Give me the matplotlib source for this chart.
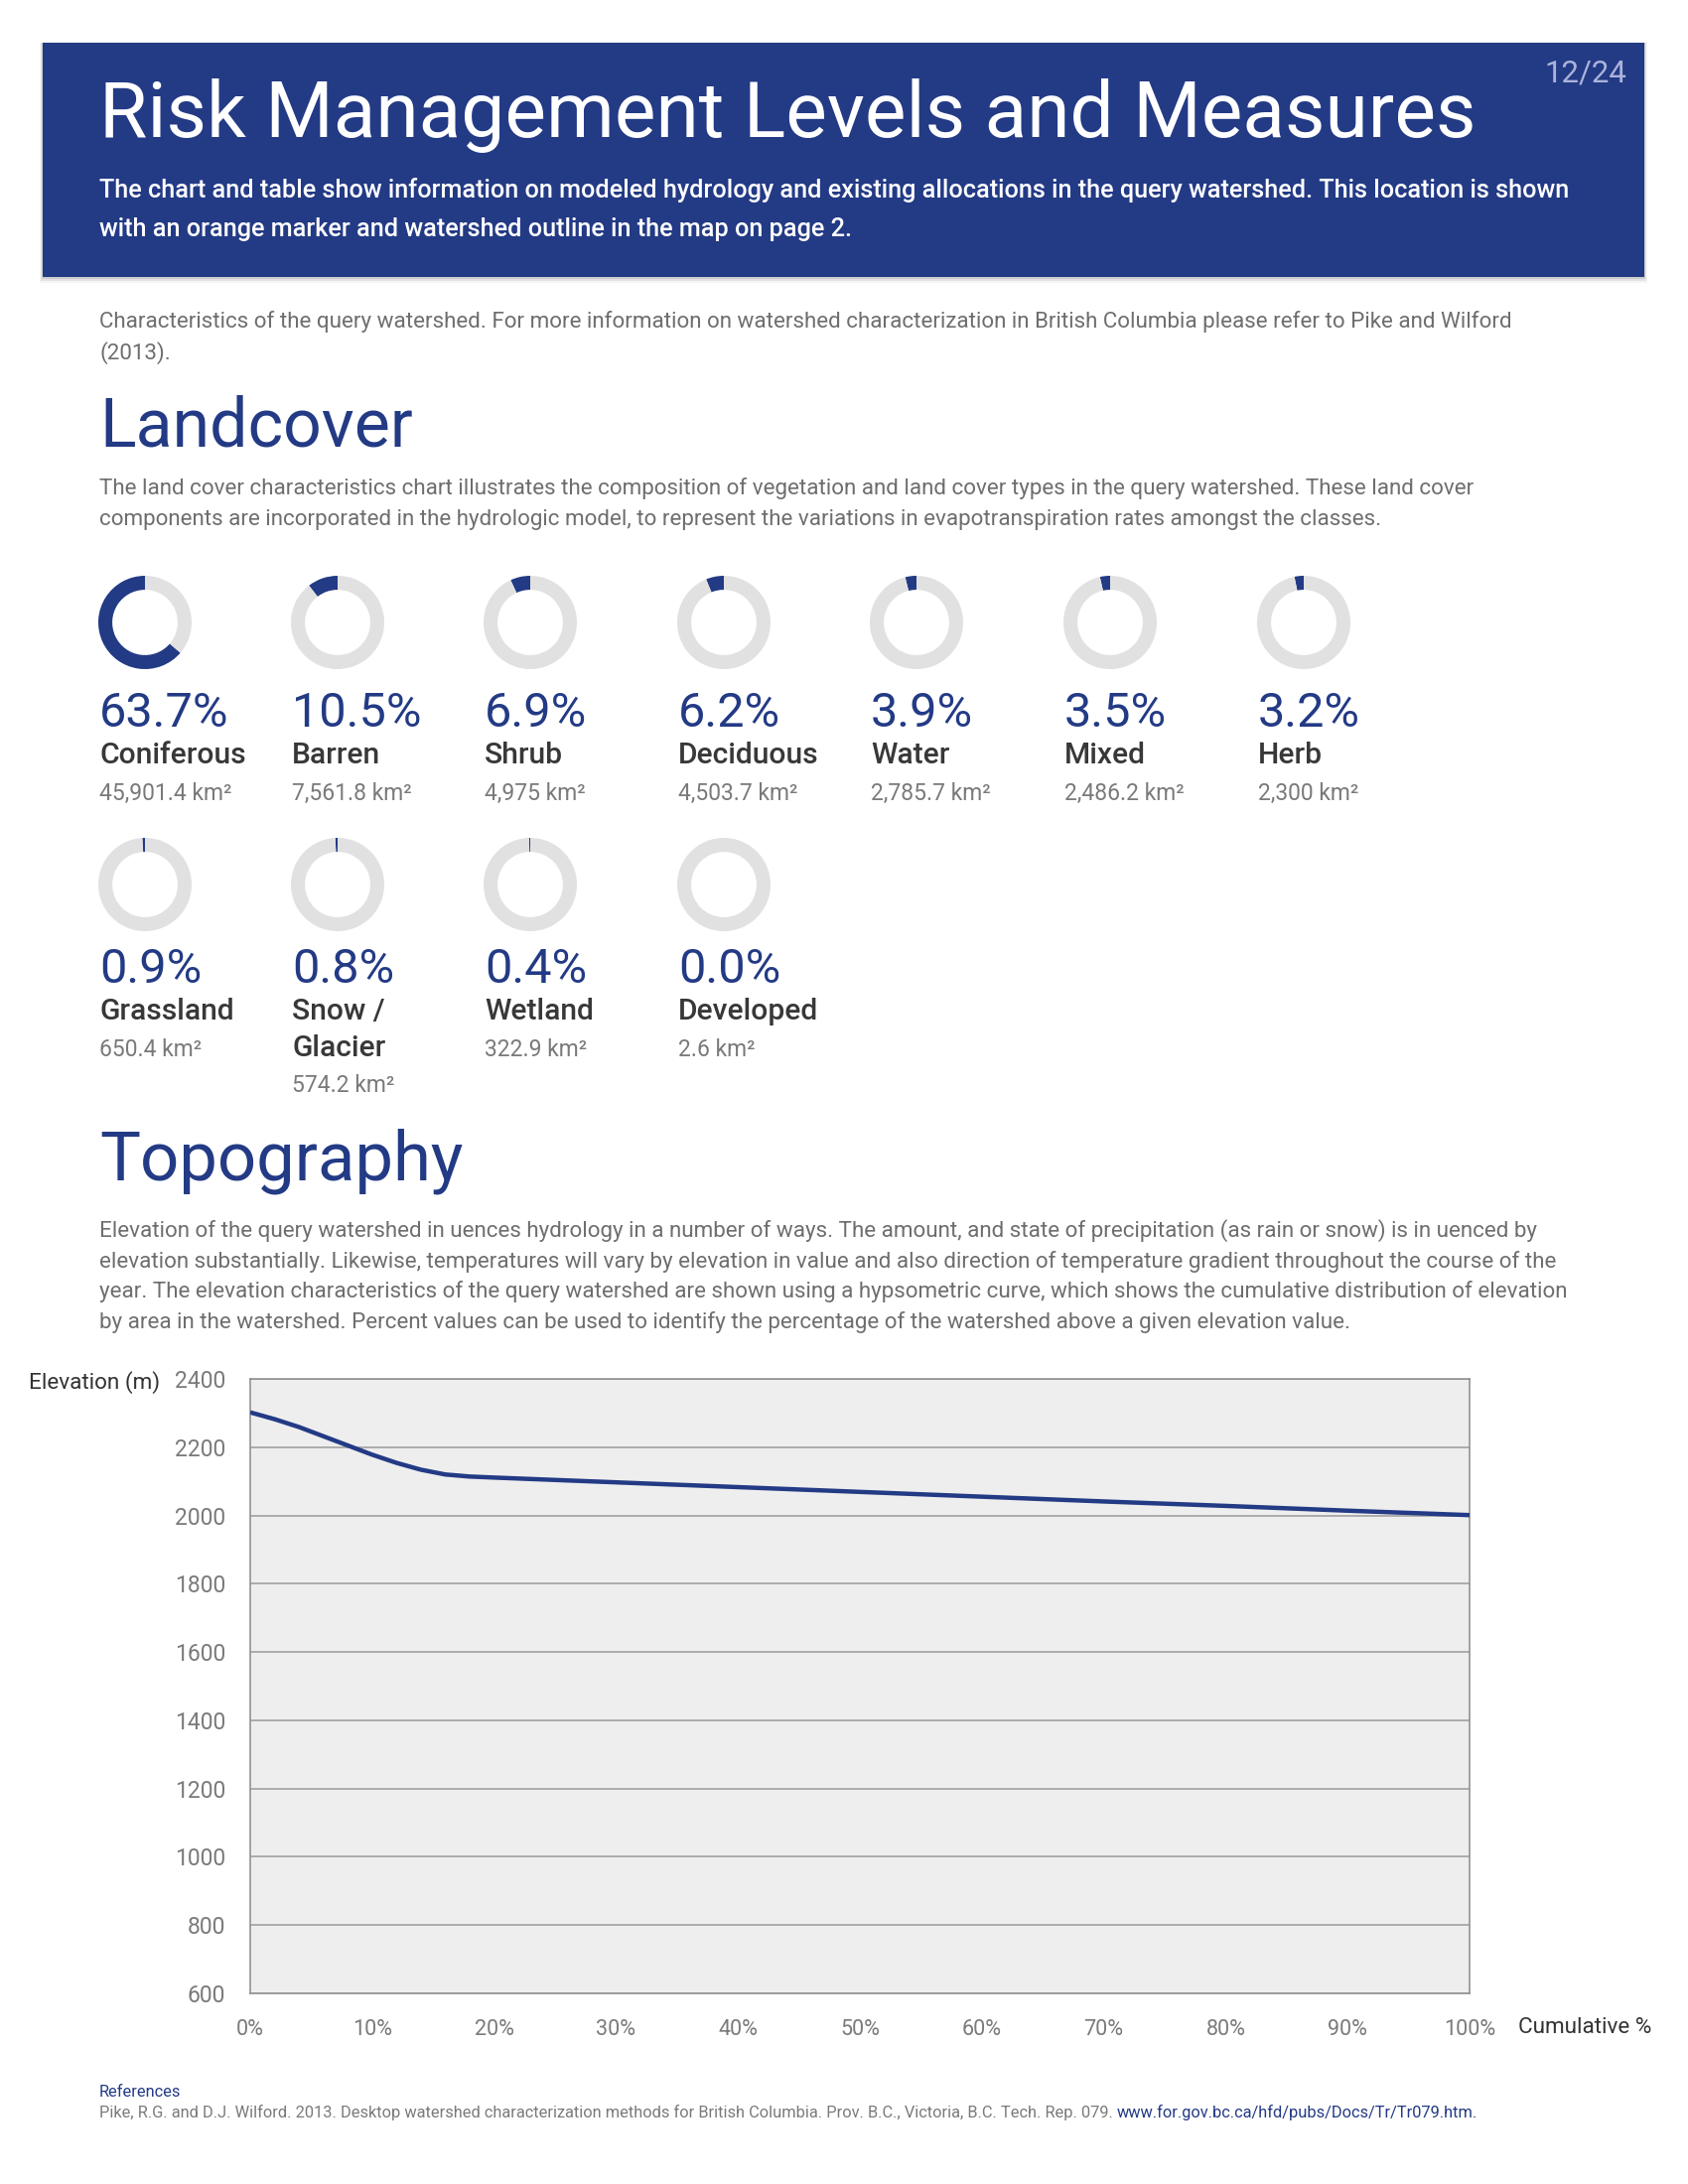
import numpy as np
import matplotlib.pyplot as plt
from matplotlib.patches import Rectangle

plt.rcParams['font.family'] = ['Roboto', 'DejaVu Sans']

W, H = 1700, 2200
NAVY = '#233a85'
RING = '#e1e1e1'

# landcover classes
classes = ['Coniferous', 'Barren', 'Shrub', 'Deciduous', 'Water', 'Mixed', 'Herb',
           'Grassland', 'Snow /\nGlacier', 'Wetland', 'Developed']
percents = [63.7, 10.5, 6.9, 6.2, 3.9, 3.5, 3.2, 0.9, 0.8, 0.4, 0.0]
areas = ['45,901.4', '7,561.8', '4,975', '4,503.7', '2,785.7', '2,486.2', '2,300',
         '650.4', '574.2', '322.9', '2.6']

# hypsometric curve
cum_pct = [0, 2, 4, 6, 8, 10, 12, 14, 16, 18, 20, 30, 40, 50, 60, 70, 80, 90, 100]
elevation = [2302, 2282, 2259, 2232, 2205, 2178, 2154, 2134, 2120, 2114, 2111,
             2097, 2083, 2069, 2055, 2041, 2028, 2014, 2001]
y_ticks = [600, 800, 1000, 1200, 1400, 1600, 1800, 2000, 2200, 2400]
x_ticks = [0, 10, 20, 30, 40, 50, 60, 70, 80, 90, 100]

fig = plt.figure(figsize=(17, 22), dpi=100)


def fx(x):
    return x / W


def fy(y):
    return 1 - y / H


def txt(x, y, s, **kw):
    kw.setdefault('va', 'center')
    fig.text(fx(x), fy(y), s, **kw)


# header banner with a soft shadow
for k, a in enumerate([0.10, 0.18, 0.30]):
    off = 6 - 2 * k
    fig.patches.append(Rectangle((fx(43 - off / 2), fy(279 + off)), fx(1613 + off), (236 + off) / H,
                                 transform=fig.transFigure, facecolor='#9a9a9a', alpha=a,
                                 edgecolor='none', zorder=0))
fig.patches.append(Rectangle((fx(43), fy(279)), fx(1613), 236 / H, transform=fig.transFigure,
                             facecolor=NAVY, edgecolor='none', zorder=1))
txt(100, 117, 'Risk Management Levels and Measures', color='white', fontsize=56.5, zorder=2)
txt(1597, 74, '12/24', color='#aab3da', fontsize=22.5, ha='center', zorder=2)
txt(100, 192, 'The chart and table show information on modeled hydrology and existing allocations '
    'in the query watershed. This location is shown', color='white', fontsize=18.2,
    fontweight='medium', zorder=2)
txt(100, 231, 'with an orange marker and watershed outline in the map on page 2.',
    color='white', fontsize=18.2, fontweight='medium', zorder=2)

GRAY = '#6e6e6e'
txt(100, 324, 'Characteristics of the query watershed. For more information on watershed '
    'characterization in British Columbia please refer to Pike and Wilford', color=GRAY, fontsize=16.1)
txt(100, 356, '(2013).', color=GRAY, fontsize=16.1)

txt(100, 430, 'Landcover', color=NAVY, fontsize=49)
txt(100, 492, 'The land cover characteristics chart illustrates the composition of vegetation and '
    'land cover types in the query watershed. These land cover', color=GRAY, fontsize=16.1)
txt(100, 523, 'components are incorporated in the hydrologic model, to represent the variations in '
    'evapotranspiration rates amongst the classes.', color=GRAY, fontsize=16.1)

# donuts
r = 47
col_x = [146, 340, 534, 729, 923, 1118, 1313]
row_y = [627, 891]
row_gap = [92, 86]
for i, (name, pct, area) in enumerate(zip(classes, percents, areas)):
    row, col = divmod(i, 7)
    cx, cy = col_x[col], row_y[row]
    ax = fig.add_axes([fx(cx - r), fy(cy + r), 2 * r / W, 2 * r / H])
    frac = max(pct, 0.0001)
    ax.pie([frac, 100 - frac], colors=[NAVY, RING], startangle=90, counterclock=True,
           wedgeprops=dict(width=0.3, edgecolor='none'), radius=1)
    ax.set_xlim(-1, 1)
    ax.set_ylim(-1, 1)
    ax.set_aspect('equal')
    ax.axis('off')
    lx = cx - 46
    by = cy + row_gap[row]
    txt(lx, by, f'{pct:.1f}%', color=NAVY, fontsize=35)
    parts = name.split('\n')
    for j, p in enumerate(parts):
        txt(lx, by + 42 + 37 * j, p, color='#383838', fontsize=21.6, fontweight='medium')
    txt(lx, by + 80 + 36 * (len(parts) - 1), f'{area} km²', color='#7a7a7a', fontsize=16.5)

# topography
txt(100, 1170, 'Topography', color=NAVY, fontsize=49.5)
topo_lines = [
    'Elevation of the query watershed in uences hydrology in a number of ways. The amount, and '
    'state of precipitation (as rain or snow) is in uenced by',
    'elevation substantially. Likewise, temperatures will vary by elevation in value and also '
    'direction of temperature gradient throughout the course of the',
    'year. The elevation characteristics of the query watershed are shown using a hypsometric '
    'curve, which shows the cumulative distribution of elevation',
    'by area in the watershed. Percent values can be used to identify the percentage of the '
    'watershed above a given elevation value.',
]
for k, line in enumerate(topo_lines):
    txt(100, 1240 + 30.7 * k, line, color=GRAY, fontsize=16.1)

ax = fig.add_axes([fx(252), fy(2008), 1228 / W, 619 / H])
ax.set_facecolor('#eeeeee')
ax.plot(cum_pct, elevation, color=NAVY, lw=3.2, solid_capstyle='butt', zorder=3)
ax.set_xlim(0, 100)
ax.set_ylim(600, 2400)
ax.set_yticks(y_ticks)
ax.set_xticks(x_ticks)
ax.set_xticklabels([f'{v}%' for v in x_ticks])
ax.grid(axis='y', color='#9a9a9a', lw=1.1)
ax.tick_params(length=0, labelcolor='#7a7a7a')
ax.tick_params(axis='y', pad=18, labelsize=16.5)
ax.tick_params(axis='x', pad=19, labelsize=15.5)
for s in ax.spines.values():
    s.set_color('#8c8c8c')
    s.set_linewidth(1.1)
txt(29, 1393, 'Elevation (m)', color='#333333', fontsize=16.2)
txt(1529, 2043, 'Cumulative %', color='#333333', fontsize=16.2)

# references
txt(100, 2107, 'References', color=NAVY, fontsize=11.8)
ref = ('Pike, R.G. and D.J. Wilford. 2013. Desktop watershed characterization methods for British '
       'Columbia. Prov. B.C., Victoria, B.C. Tech. Rep. 079. ')
t = fig.text(fx(100), fy(2128), ref, color='#7a7a7a', fontsize=11.8, va='center')
fig.canvas.draw()
bb = t.get_window_extent()
fig.text(bb.x1 / fig.bbox.width, fy(2128), 'www.for.gov.bc.ca/hfd/pubs/Docs/Tr/Tr079.htm.',
         color=NAVY, fontsize=11.8, va='center')

fig.savefig('out.png', dpi=100, facecolor='white')
